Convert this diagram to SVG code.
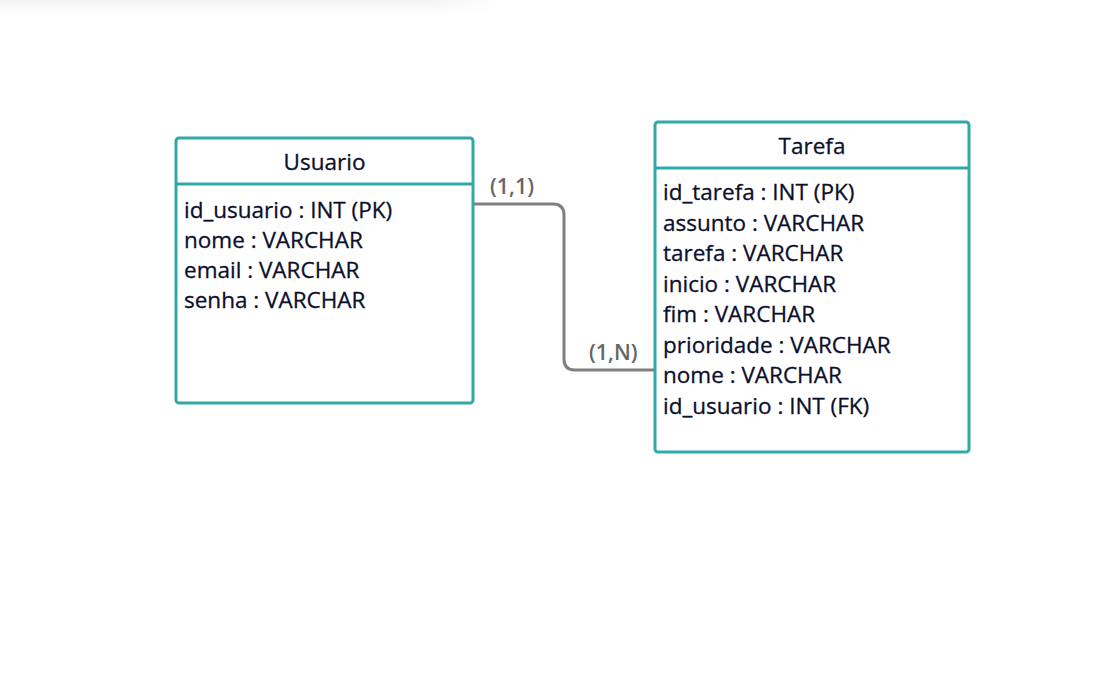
<svg xmlns="http://www.w3.org/2000/svg" width="1120" height="682" viewBox="0 0 1120 682">
<defs>
<linearGradient id="sh" x1="0" y1="0" x2="0" y2="1">
<stop offset="0" stop-color="#f2f2f2"/>
<stop offset="1" stop-color="#ffffff"/>
</linearGradient>
<linearGradient id="shx" x1="0" y1="0" x2="1" y2="0">
<stop offset="0.85" stop-color="#fff" stop-opacity="0"/>
<stop offset="1" stop-color="#fff" stop-opacity="1"/>
</linearGradient>
</defs>
<style>
.box{fill:#fff;stroke:#30aaa8;stroke-width:3}
.div{stroke:#30aaa8;stroke-width:3}
.t{font-family:"Open Sans","Noto Sans",sans-serif;font-size:22.5px;fill:#0c0f2c;stroke:#0c0f2c;stroke-width:0.3}
.ttl{text-anchor:middle}
.conn{fill:none;stroke:#808080;stroke-width:3}
.lbl{font-family:"Open Sans","Noto Sans",sans-serif;font-size:21.5px;font-weight:600;fill:#666}
</style>
<rect width="1120" height="682" fill="#fff"/>
<rect x="0" y="0" width="500" height="14" fill="url(#sh)"/>
<rect x="0" y="0" width="500" height="14" fill="url(#shx)"/>
<g id="connectors">
<path class="conn" d="M473 204 H553 Q564 204 564 215 V359 Q564 370 575 370 H655"/>
<text class="lbl" x="490" y="194">(1,1)</text>
<text class="lbl" x="589" y="360">(1,N)</text>
</g>
<g id="usuario">
<rect class="box" x="176" y="138" width="297" height="265" rx="3"/>
<line class="div" x1="176" y1="184" x2="473" y2="184"/>
<text class="t ttl" x="324.5" y="170">Usuario</text>
<text class="t" x="184" y="218">id_usuario : INT (PK)</text>
<text class="t" x="184" y="248">nome : VARCHAR</text>
<text class="t" x="184" y="278">email : VARCHAR</text>
<text class="t" x="184" y="308">senha : VARCHAR</text>
</g>
<g id="tarefa">
<rect class="box" x="655" y="122" width="314" height="330" rx="3"/>
<line class="div" x1="655" y1="168" x2="969" y2="168"/>
<text class="t ttl" x="812" y="154">Tarefa</text>
<text class="t" x="663" y="200">id_tarefa : INT (PK)</text>
<text class="t" x="663" y="230.5">assunto : VARCHAR</text>
<text class="t" x="663" y="261">tarefa : VARCHAR</text>
<text class="t" x="663" y="291.5">inicio : VARCHAR</text>
<text class="t" x="663" y="322">fim : VARCHAR</text>
<text class="t" x="663" y="352.5">prioridade : VARCHAR</text>
<text class="t" x="663" y="383">nome : VARCHAR</text>
<text class="t" x="663" y="413.5">id_usuario : INT (FK)</text>
</g>
</svg>
